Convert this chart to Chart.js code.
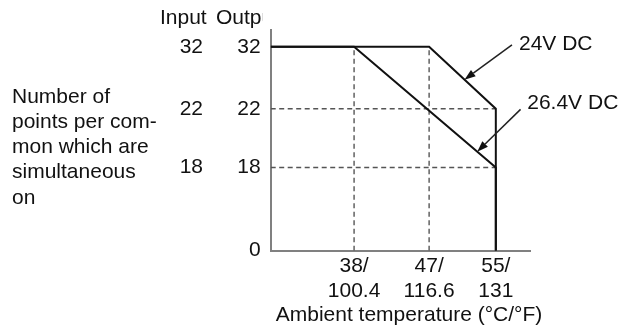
<!DOCTYPE html>
<html>
<head>
<meta charset="utf-8">
<title>Simultaneous ON points vs ambient temperature</title>
<script src="https://cdn.jsdelivr.net/npm/chart.js@4.4.1/dist/chart.umd.min.js"></script>
<style>
  html, body { margin: 0; padding: 0; background: #fff; }
  #wrap { width: 619px; height: 329px; }
</style>
</head>
<body>
<div id="wrap"><canvas id="chart" width="619" height="329"></canvas></div>
<script>
// derating curves: ambient temperature (°C) -> simultaneous ON points
const temp24 = [28, 47, 55, 55];
const points24 = [32, 32, 22, 0];
const temp264 = [28, 38, 55, 55];
const points264 = [32, 32, 18, 0];

// dashed guide lines
const guideTemps = [38, 47];
const guidePoints = [22, 18];

// tick labels
const tickC = [38, 47, 55];
const tickF = ['100.4', '116.6', '131'];
const outputTicks = [0, 18, 22, 32];
const inputTicks = [18, 22, 32];

const seriesNames = ['24V DC', '26.4V DC'];
const colHeaders = ['Input', 'Output'];
const yTitleLines = ['Number of', 'points per com-', 'mon which are', 'simultaneous', 'on'];
const xTitle = 'Ambient temperature (\u00B0C/\u00B0F)';

const FONT = "'Liberation Sans', Arial, sans-serif";
const INK = '#111';

// the vertical axis of the drawing is not to scale, so the y axes use
// a piecewise linear mapping (value -> fraction of the axis height)
const stops = [[0, 0], [18, 0.377], [22, 0.643], [32, 0.924], [34.7, 1]];

class PiecewiseScale extends Chart.LinearScale {
  static id = 'piecewise';
  static defaults = Chart.LinearScale.defaults;
  toDecimal(v) {
    for (let i = 1; i < stops.length; i++) {
      if (v <= stops[i][0] || i === stops.length - 1) {
        const [v0, f0] = stops[i - 1];
        const [v1, f1] = stops[i];
        return f0 + (v - v0) / (v1 - v0) * (f1 - f0);
      }
    }
    return 0;
  }
  getPixelForValue(v) {
    return v === null ? NaN : this.getPixelForDecimal(this.toDecimal(v));
  }
  getValueForPixel(p) {
    const d = this.getDecimalForPixel(p);
    for (let i = 1; i < stops.length; i++) {
      if (d <= stops[i][1] || i === stops.length - 1) {
        const [v0, f0] = stops[i - 1];
        const [v1, f1] = stops[i];
        return v0 + (d - f0) / (f1 - f0) * (v1 - v0);
      }
    }
    return 0;
  }
}
Chart.register(PiecewiseScale);

const toPoints = (xs, ys) => xs.map((x, i) => ({ x: x, y: ys[i] }));
const topPoints = Math.max(...points24);
const lastTemp = temp24[temp24.length - 1];

const solid = (label, data) => ({
  label: label,
  data: data,
  showLine: true,
  borderColor: INK,
  borderWidth: 2,
  pointRadius: 0,
  fill: false
});
const dashed = (data) => ({
  data: data,
  showLine: true,
  borderColor: '#555',
  borderWidth: 1.4,
  borderDash: [5, 3.5],
  pointRadius: 0,
  fill: false
});

const datasets = [
  solid(seriesNames[0], toPoints(temp24, points24)),
  solid(seriesNames[1], toPoints(temp264, points264))
];
guideTemps.forEach(t => datasets.push(dashed([{ x: t, y: 0 }, { x: t, y: topPoints }])));
guidePoints.forEach(p => datasets.push(dashed([{ x: temp24[0], y: p }, { x: lastTemp, y: p }])));

// callouts: arrow tip sits on segment `seg` of the series, at fraction t
const callouts = [
  { series: 0, seg: 1, t: 0.53, tail: [47.5, -34.8], text: [7, 5] },
  { series: 1, seg: 1, t: 0.869, tail: [43.3, -42.3], text: [6.7, 0] }
];

const notes = {
  id: 'notes',
  afterDraw(chart) {
    const ctx = chart.ctx;
    ctx.save();
    ctx.font = '21px ' + FONT;
    ctx.fillStyle = INK;
    ctx.textBaseline = 'alphabetic';
    ctx.textAlign = 'left';

    yTitleLines.forEach((s, i) => ctx.fillText(s, 12, 102.5 + i * 25.3));
    ctx.fillText(colHeaders[0], 160, 24);
    ctx.save();
    ctx.beginPath();
    ctx.rect(0, 0, 263, 40);
    ctx.clip();
    ctx.fillText(colHeaders[1], 216, 24);
    ctx.restore();

    ctx.textAlign = 'center';
    ctx.fillText(xTitle, 409, 320.7);

    ctx.textAlign = 'left';
    ctx.strokeStyle = '#222';
    ctx.lineWidth = 1.5;
    callouts.forEach(c => {
      const pts = chart.getDatasetMeta(c.series).data;
      const a = pts[c.seg], b = pts[c.seg + 1];
      const tx = a.x + (b.x - a.x) * c.t;
      const ty = a.y + (b.y - a.y) * c.t;
      const sx = tx + c.tail[0], sy = ty + c.tail[1];
      const ang = Math.atan2(ty - sy, tx - sx);
      const hl = 11, hw = 4;
      const bx = tx - hl * Math.cos(ang), by = ty - hl * Math.sin(ang);
      ctx.beginPath();
      ctx.moveTo(sx, sy);
      ctx.lineTo(bx, by);
      ctx.stroke();
      ctx.beginPath();
      ctx.moveTo(tx, ty);
      ctx.lineTo(bx - hw * Math.sin(ang), by + hw * Math.cos(ang));
      ctx.lineTo(bx + hw * Math.sin(ang), by - hw * Math.cos(ang));
      ctx.closePath();
      ctx.fillStyle = '#111';
      ctx.fill();
      ctx.fillText(seriesNames[c.series], sx + c.text[0], sy + c.text[1]);
    });
    ctx.restore();
  }
};

const tickFont = { family: FONT, size: 21 };

new Chart(document.getElementById('chart'), {
  type: 'scatter',
  data: { datasets: datasets },
  options: {
    responsive: false,
    animation: false,
    layout: { padding: { top: 30, right: 89, bottom: 0, left: 0 } },
    plugins: { legend: { display: false }, tooltip: { enabled: false } },
    scales: {
      x: {
        type: 'linear',
        min: 28,
        max: 59.1,
        grid: { display: false, drawTicks: false },
        border: { display: true, color: '#808080', width: 2 },
        afterBuildTicks: s => { s.ticks = tickC.map(v => ({ value: v })); },
        afterFit: s => { s.height = 78.3; },
        ticks: {
          autoSkip: false,
          maxRotation: 0,
          padding: 3,
          color: INK,
          font: tickFont,
          callback: v => {
            const i = tickC.indexOf(v);
            return [tickC[i] + '/', tickF[i]];
          }
        }
      },
      y: {
        type: 'piecewise',
        position: 'left',
        weight: 0,
        min: 0,
        max: 34.7,
        grid: { display: false, drawTicks: false },
        border: { display: true, color: '#808080', width: 2 },
        afterBuildTicks: s => { s.ticks = outputTicks.map(v => ({ value: v })); },
        afterFit: s => { s.width = 60.7; },
        ticks: { padding: 10, color: INK, font: tickFont, callback: v => String(v) }
      },
      yIn: {
        type: 'piecewise',
        position: 'left',
        weight: 1,
        min: 0,
        max: 34.7,
        grid: { display: false, drawTicks: false },
        border: { display: false },
        afterBuildTicks: s => { s.ticks = inputTicks.map(v => ({ value: v })); },
        afterFit: s => { s.width = 210; },
        ticks: { padding: 7, color: INK, font: tickFont, callback: v => String(v) }
      }
    }
  },
  plugins: [notes]
});
</script>
</body>
</html>
